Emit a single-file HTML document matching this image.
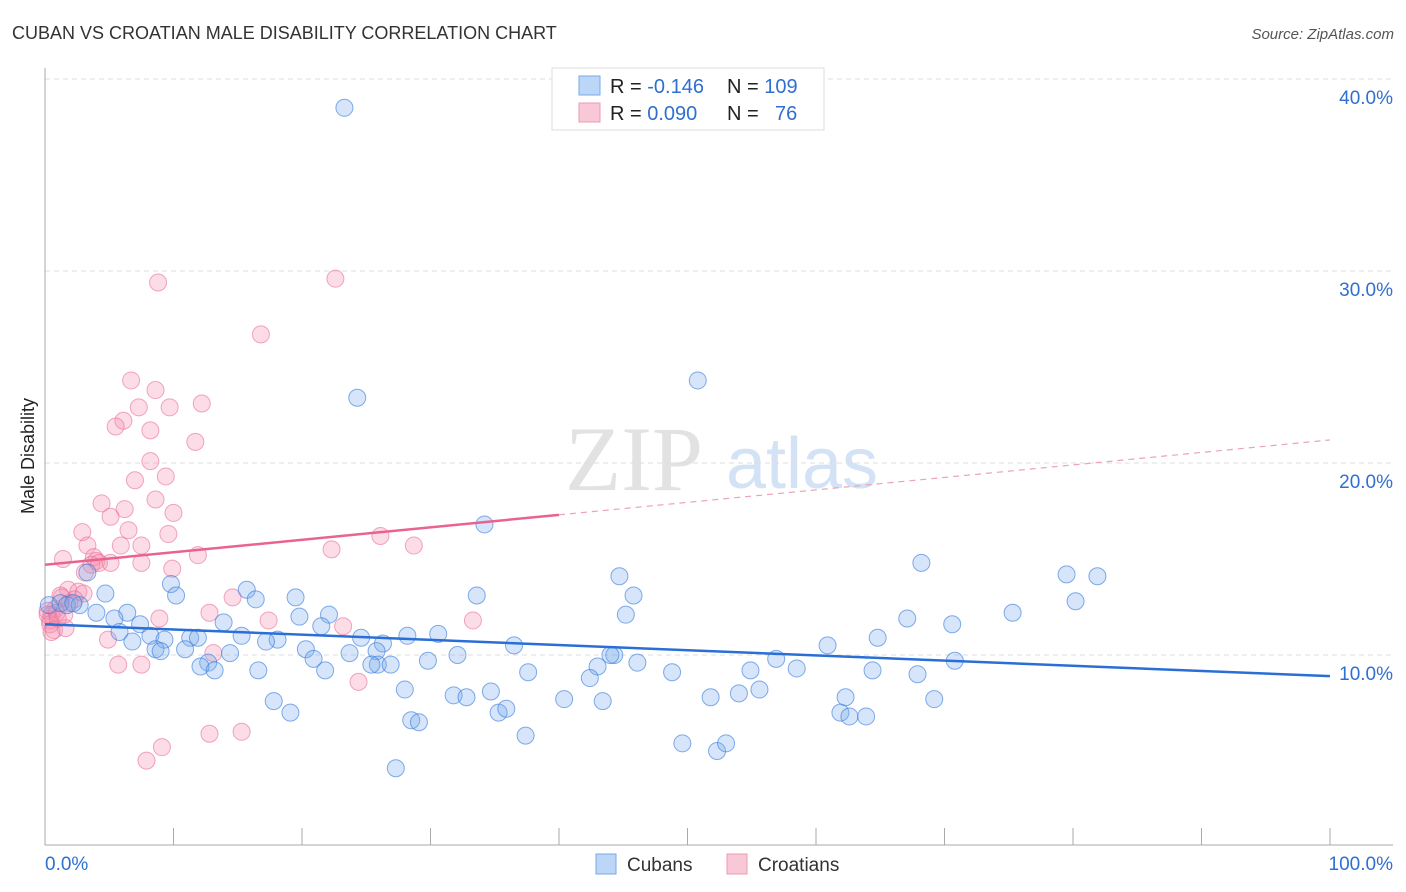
<!DOCTYPE html>
<html><head><meta charset="utf-8"><style>
body{margin:0;background:#fff;font-family:"Liberation Sans",sans-serif}
svg{display:block}
</style></head><body>
<svg id="chart" width="1406" height="892">
<text x="12" y="39" font-size="18" fill="#333">CUBAN VS CROATIAN MALE DISABILITY CORRELATION CHART</text>
<text x="1394" y="39" font-size="15" fill="#555" font-style="italic" text-anchor="end">Source: ZipAtlas.com</text>
<g>
<text x="634" y="490" font-size="92" font-family="Liberation Serif,serif" fill="#e2e2e2" text-anchor="middle">ZIP</text>
<text x="802" y="488" font-size="72" fill="#d3e3f5" text-anchor="middle">atlas</text>
</g>
<g id="grid"></g>
<g id="axes"></g>
<g id="pts"></g>
<g id="trend"></g>
<text transform="translate(34,456) rotate(-90)" font-size="18" fill="#222" text-anchor="middle">Male Disability</text>
<g>
<rect x="552" y="68" width="272" height="62" fill="#fff" stroke="#ddd"/>
<rect x="579" y="76" width="21" height="19" fill="#bcd6f7" stroke="#7aaae8"/>
<rect x="579" y="103" width="21" height="19" fill="#f9c8d6" stroke="#ee9ab4"/>
<text x="610" y="93" font-size="20" fill="#222">R = <tspan fill="#2f6fd0">-0.146</tspan></text>
<text x="727" y="93" font-size="20" fill="#222">N = <tspan fill="#2f6fd0">109</tspan></text>
<text x="610" y="120" font-size="20" fill="#222">R = <tspan fill="#2f6fd0">0.090</tspan></text>
<text x="727" y="120" font-size="20" fill="#222">N = <tspan fill="#2f6fd0" x="775">76</tspan></text>
</g>
<g>
<rect x="596" y="854" width="20" height="20" fill="#bcd6f7" stroke="#7aaae8"/>
<text x="627" y="871" font-size="19" fill="#333">Cubans</text>
<rect x="727" y="854" width="20" height="20" fill="#f9c8d6" stroke="#ee9ab4"/>
<text x="758" y="871" font-size="19" fill="#333">Croatians</text>
</g>
</svg>
<script>
const yTicks=[10,20,30,40];
const xTickLabels=["0.0%","100.0%"];
const cubanX=[23.3,24.3,50.8,34.2,68.2,79.5,81.9,44.7,3.3,9.8,15.7,10.2,4.7,19.5,16.4,33.6,45.8,80.2,75.3,45.2,67.1,70.6,6.4,4.0,5.4,7.4,19.8,22.1,13.9,21.5,0.3,1.2,1.7,2.7,2.2,5.8,8.2,6.8,9.3,11.3,11.9,15.3,18.1,17.2,24.6,26.3,28.2,30.6,36.5,60.9,64.8,8.6,9.0,10.9,14.4,20.3,23.7,25.8,32.1,25.9,20.9,12.7,12.1,13.2,16.6,21.8,25.4,26.9,29.8,43.0,44.3,44.0,46.1,56.9,58.5,70.8,37.6,48.8,54.9,64.4,67.9,42.4,28.0,31.8,32.8,34.7,17.8,19.1,28.5,29.1,35.3,35.9,40.4,43.4,51.8,54.0,55.6,62.3,69.2,61.9,62.6,63.9,37.4,49.6,52.3,53.0,27.3];
const cubanY=[38.5,23.4,24.3,16.8,14.8,14.2,14.1,14.1,14.3,13.7,13.4,13.1,13.2,13.0,12.9,13.1,13.1,12.8,12.2,12.1,11.9,11.6,12.2,12.2,11.9,11.6,12.0,12.1,11.7,11.5,12.6,12.7,12.6,12.6,12.7,11.2,11.0,10.7,10.8,10.9,10.9,11.0,10.8,10.7,10.9,10.6,11.0,11.1,10.5,10.5,10.9,10.3,10.2,10.3,10.1,10.3,10.1,10.2,10.0,9.5,9.8,9.6,9.4,9.2,9.2,9.2,9.5,9.5,9.7,9.4,10.0,10.0,9.6,9.8,9.3,9.7,9.1,9.1,9.2,9.2,9.0,8.8,8.2,7.9,7.8,8.1,7.6,7.0,6.6,6.5,7.0,7.2,7.7,7.6,7.8,8.0,8.2,7.8,7.7,7.0,6.8,6.8,5.8,5.4,5.0,5.4,4.1];
const croX=[8.8,22.6,16.8,6.7,8.6,12.2,7.3,9.7,6.1,5.5,8.2,11.7,8.2,9.4,7.0,8.6,4.4,6.2,10.0,5.1,6.5,2.9,9.6,3.3,5.9,7.5,1.4,26.1,28.7,22.3,11.9,3.8,4.0,3.6,4.2,5.1,7.5,9.9,3.1,1.8,2.6,3.0,1.3,2.3,1.9,0.8,0.2,0.5,0.4,0.4,0.7,1.6,8.9,12.8,14.6,17.4,33.3,23.2,4.9,13.1,5.7,7.5,24.4,12.8,15.3,9.1,7.9,0.2,1.2,0.9,1.0,0.5,1.5];
const croY=[29.4,29.6,26.7,24.3,23.8,23.1,22.9,22.9,22.2,21.9,21.7,21.1,20.1,19.3,19.1,18.1,17.9,17.6,17.4,17.2,16.5,16.4,16.3,15.7,15.7,15.7,15.0,16.2,15.7,15.5,15.2,15.1,14.9,14.7,14.8,14.8,14.8,14.5,14.3,13.4,13.3,13.2,13.0,12.9,12.7,12.4,12.3,12.1,11.8,11.6,11.3,11.4,11.9,12.2,13.0,11.8,11.8,11.5,10.8,10.1,9.5,9.5,8.6,5.9,6.0,5.2,4.5,12.1,13.1,12.2,11.9,11.2,12.1];
const cubanTrend=[[0,11.6],[100,8.9]];
const croTrendSolid=[[0,14.7],[40,17.3]];
const croTrendDash=[[40,17.3],[100,21.2]];

const NS="http://www.w3.org/2000/svg";
const X0=45,X1=1330,Y0=847,PPU=19.2;
const sx=v=>X0+(X1-X0)*v/100;
const sy=v=>Y0-v*PPU;
function mk(tag,attrs,parent){const e=document.createElementNS(NS,tag);for(const k in attrs)e.setAttribute(k,attrs[k]);parent.appendChild(e);return e;}
const grid=document.getElementById('grid'),axes=document.getElementById('axes'),pts=document.getElementById('pts'),trend=document.getElementById('trend');
yTicks.forEach(t=>{
  const l=mk('line',{x1:45,x2:1393,y1:sy(t),y2:sy(t),stroke:'#ddd','stroke-dasharray':'5,4'},grid);
  
  
  const tx=mk('text',{x:1393,y:sy(t)+25,'font-size':19,fill:'#2f6fd0','text-anchor':'end'},grid);
  tx.textContent=t.toFixed(1)+'%';
  
  
});
let a=mk('line',{x1:45,x2:45,y1:68,y2:845,stroke:'#aaa'},axes);


a=mk('line',{x1:45,x2:1393,y1:845,y2:845,stroke:'#aaa'},axes);


for(let i=0;i<=10;i++){
  const t=mk('line',{x1:sx(i*10),x2:sx(i*10),y1:828,y2:845,stroke:'#aaa'},axes);
  
  
}
let xl=mk('text',{x:45,y:870,'font-size':19,fill:'#2f6fd0'},axes);xl.textContent=xTickLabels[0];


xl=mk('text',{x:1393,y:870,'font-size':19,fill:'#2f6fd0','text-anchor':'end'},axes);xl.textContent=xTickLabels[1];


croX.forEach((v,i)=>{
  const c=mk('circle',{cx:sx(v),cy:sy(croY[i]),r:8.5,fill:'rgba(244,143,177,0.3)',stroke:'rgba(232,110,150,0.6)','stroke-width':1},pts);
  
  
});
cubanX.forEach((v,i)=>{
  const c=mk('circle',{cx:sx(v),cy:sy(cubanY[i]),r:8.5,fill:'rgba(120,170,235,0.3)',stroke:'rgba(50,120,220,0.6)','stroke-width':1},pts);
  
  
});
function ln(p,st,w,dash,name){
  const l=mk('line',{x1:sx(p[0][0]),y1:sy(p[0][1]),x2:sx(p[1][0]),y2:sy(p[1][1]),stroke:st,'stroke-width':w},trend);
  if(dash)l.setAttribute('stroke-dasharray',dash);
  
  
}
ln(cubanTrend,'#2a6fd6',2.5,null,'cuban-trend-line');
ln(croTrendSolid,'#e8648e',2.5,null,'croatian-trend-line');
ln(croTrendDash,'#eea0b8',1.2,'6,5','croatian-trend-extension');
</script>
</body></html>
